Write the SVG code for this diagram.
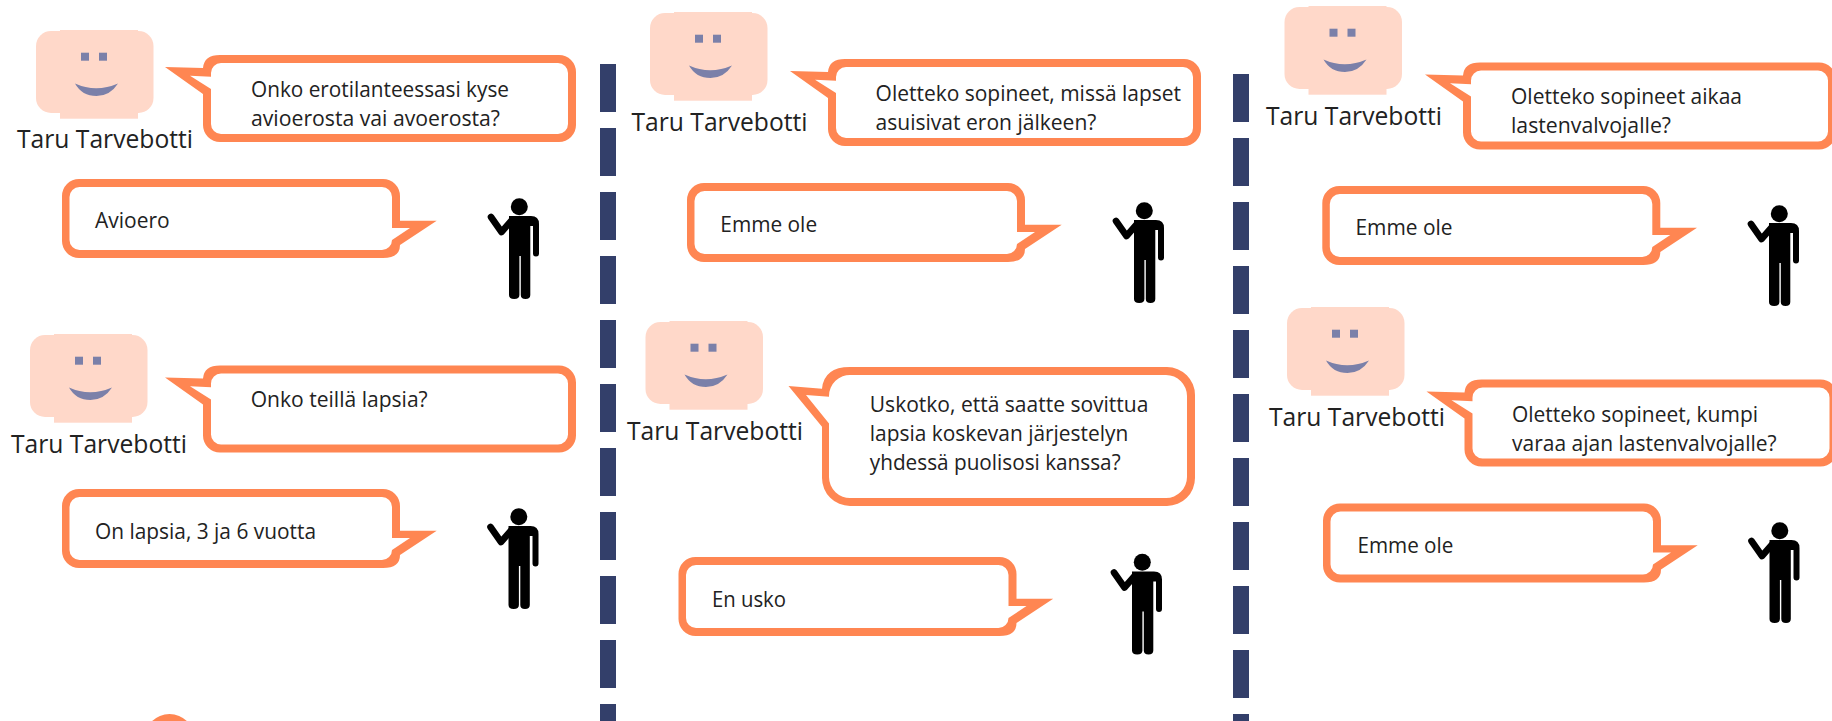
<svg xmlns="http://www.w3.org/2000/svg" width="1832" height="721" viewBox="0 0 1832 721">
<style>
text{font-family:"Open Sans","Noto Sans","Liberation Sans",sans-serif;fill:#222;font-size:21.5px}
.name{font-size:25.5px}
.orange{fill:#ff8652}
.inner{fill:#fff}
.divider{stroke:#333f6a;stroke-width:16;stroke-dasharray:48 16;fill:none}
.skin{fill:#ffd8c9}
.feat{fill:#7b80a9}
</style>
<defs>
<g id="face">
<rect class="skin" x="36" y="31" width="117.5" height="82" rx="15"/>
<rect class="skin" x="60" y="30" width="78" height="88.7"/>
<rect class="feat" x="81" y="52.7" width="8" height="8"/>
<rect class="feat" x="99" y="52.7" width="8" height="8"/>
<path class="feat" d="M75 83.5Q96 93 118 83.5Q110 96 96.5 96Q82 96 75 83.5Z"/>
</g>
<g id="person">
<circle cx="519.3" cy="206.7" r="8.5"/>
<path d="M509 216H531Q539 216 539 224V253.5A3 3 0 0 1 533 253.5V226H530.3V295Q530.3 299 525.5 299Q520.8 299 520.8 295V256H519.4V295Q519.4 299 514.2 299Q509 299 509 295Z"/>
<path d="M491 217L501.5 232L512 220" fill="none" stroke="#000" stroke-width="6.6" stroke-linecap="round" stroke-linejoin="round"/>
</g>
<g id="qbubble">
<path class="orange" d="M220 55H559A17 17 0 0 1 576 72V125A17 17 0 0 1 559 142H220A17 17 0 0 1 203 125V94L165 67L203 68Q204 55 220 55Z"/>
<path class="inner" d="M221 63H558A10 10 0 0 1 568 73V124A10 10 0 0 1 558 134H221A10 10 0 0 1 211 124V89L190 75.7L211 76.7V73A10 10 0 0 1 221 63Z"/>
</g>
<g id="abubble">
<path class="orange" d="M79 179H383A17 17 0 0 1 400 196V220.7H436.7L400 245Q400 258 383 258H79A17 17 0 0 1 62 241V196A17 17 0 0 1 79 179Z"/>
<path class="inner" d="M79.5 187H382A10 10 0 0 1 392 197V228H410L392 240A10 10 0 0 1 382 250H79.5A10 10 0 0 1 69.5 240V197A10 10 0 0 1 79.5 187Z"/>
</g>
</defs>
<rect width="1832" height="721" fill="#fff"/>
<g id="connectors">
<line class="divider" x1="608" y1="64" x2="608" y2="721"/>
<line class="divider" x1="1241" y1="74" x2="1241" y2="721"/>
</g>
<circle id="partial-circle" class="orange" cx="169.5" cy="739" r="25"/>

<g id="bot-a1"><use href="#face"/><text class="name" x="17" y="148" textLength="176" lengthAdjust="spacingAndGlyphs">Taru Tarvebotti</text></g>
<g id="question-a1"><use href="#qbubble"/><text x="251" y="97" textLength="258" lengthAdjust="spacingAndGlyphs">Onko erotilanteessasi kyse</text><text x="251" y="126" textLength="249" lengthAdjust="spacingAndGlyphs">avioerosta vai avoerosta?</text></g>
<g id="answer-a1"><use href="#abubble"/><text x="95" y="228" textLength="74.6" lengthAdjust="spacingAndGlyphs">Avioero</text></g>
<g id="user-a1"><use href="#person"/></g>

<g id="bot-a2"><use href="#face" x="-6" y="304"/><text class="name" x="11" y="453" textLength="176" lengthAdjust="spacingAndGlyphs">Taru Tarvebotti</text></g>
<g id="question-a2"><use href="#qbubble" y="310.5"/><text x="250.7" y="407" textLength="177" lengthAdjust="spacingAndGlyphs">Onko teillä lapsia?</text></g>
<g id="answer-a2"><use href="#abubble" y="310"/><text x="95" y="539" textLength="221" lengthAdjust="spacingAndGlyphs">On lapsia, 3 ja 6 vuotta</text></g>
<g id="user-a2"><use href="#person" x="-0.5" y="310"/></g>

<g id="bot-b1"><use href="#face" x="614" y="-18"/><text class="name" x="631.5" y="130.5" textLength="176" lengthAdjust="spacingAndGlyphs">Taru Tarvebotti</text></g>
<g id="question-b1"><use href="#qbubble" x="625" y="4"/><text x="875.6" y="101" textLength="305.4" lengthAdjust="spacingAndGlyphs">Oletteko sopineet, missä lapset</text><text x="875.6" y="130" textLength="220.8" lengthAdjust="spacingAndGlyphs">asuisivat eron jälkeen?</text></g>
<g id="answer-b1"><use href="#abubble" x="625" y="4"/><text x="720.3" y="232" textLength="96.8" lengthAdjust="spacingAndGlyphs">Emme ole</text></g>
<g id="user-b1"><use href="#person" x="625" y="4"/></g>

<g id="bot-b2"><use href="#face" x="609.5" y="291"/><text class="name" x="627" y="439.5" textLength="176" lengthAdjust="spacingAndGlyphs">Taru Tarvebotti</text></g>
<g id="question-b2">
<path class="orange" d="M850 367H1167A28 28 0 0 1 1195 395V478A28 28 0 0 1 1167 506H850A28 28 0 0 1 822 478V426.7L788.5 386L822 388.7Q824 367 850 367Z"/>
<path class="inner" d="M851 375H1166A21 21 0 0 1 1187 396V477A21 21 0 0 1 1166 498H851A21 21 0 0 1 829 477V423.5L806 395L829 396.7V396A21 21 0 0 1 851 375Z"/>
<text x="869.8" y="412.3" textLength="278.6" lengthAdjust="spacingAndGlyphs">Uskotko, että saatte sovittua</text><text x="869.8" y="441.3" textLength="258.4" lengthAdjust="spacingAndGlyphs">lapsia koskevan järjestelyn</text><text x="869.8" y="470.3" textLength="250.8" lengthAdjust="spacingAndGlyphs">yhdessä puolisosi kanssa?</text></g>
<g id="answer-b2"><use href="#abubble" x="616.5" y="378"/><text x="712" y="607" textLength="74" lengthAdjust="spacingAndGlyphs">En usko</text></g>
<g id="user-b2"><use href="#person" x="623" y="355.5"/></g>

<g id="bot-c1"><use href="#face" x="1248.5" y="-24"/><text class="name" x="1266" y="124.5" textLength="176" lengthAdjust="spacingAndGlyphs">Taru Tarvebotti</text></g>
<g id="question-c1"><use href="#qbubble" x="1260" y="7.5"/><text x="1511" y="104.3" textLength="231" lengthAdjust="spacingAndGlyphs">Oletteko sopineet aikaa</text><text x="1511" y="133.3" textLength="160" lengthAdjust="spacingAndGlyphs">lastenvalvojalle?</text></g>
<g id="answer-c1"><use href="#abubble" x="1260.3" y="7"/><text x="1355.5" y="235" textLength="97" lengthAdjust="spacingAndGlyphs">Emme ole</text></g>
<g id="user-c1"><use href="#person" x="1260" y="7"/></g>

<g id="bot-c2"><use href="#face" x="1251" y="277"/><text class="name" x="1269" y="425.5" textLength="176" lengthAdjust="spacingAndGlyphs">Taru Tarvebotti</text></g>
<g id="question-c2"><use href="#qbubble" x="1261.5" y="324.5"/><text x="1512" y="422.3" textLength="246" lengthAdjust="spacingAndGlyphs">Oletteko sopineet, kumpi</text><text x="1512" y="451" textLength="264.6" lengthAdjust="spacingAndGlyphs">varaa ajan lastenvalvojalle?</text></g>
<g id="answer-c2"><use href="#abubble" x="1261" y="324.5"/><text x="1357.4" y="553" textLength="96" lengthAdjust="spacingAndGlyphs">Emme ole</text></g>
<g id="user-c2"><use href="#person" x="1260.5" y="324"/></g>
</svg>
